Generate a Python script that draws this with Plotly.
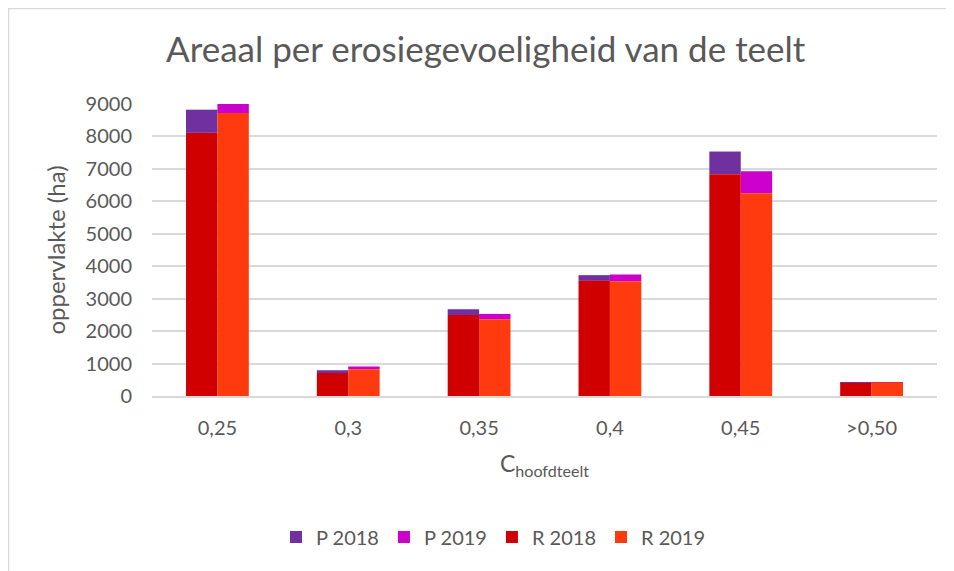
import plotly.graph_objects as go

categories = ["0,25", "0,3", "0,35", "0,4", "0,45", ">0,50"]
r_2018 = [8110, 710, 2495, 3550, 6835, 400]
p_2018 = [715, 85, 175, 175, 700, 10]
r_2019 = [8720, 825, 2365, 3540, 6250, 420]
p_2019 = [280, 85, 165, 205, 680, 10]
y_ticks = [0, 1000, 2000, 3000, 4000, 5000, 6000, 7000, 8000, 9000]

FONT = "Lato, Open Sans, sans-serif"
GREY = "#595959"

fig = go.Figure()
fig.add_trace(go.Bar(name="P 2018", x=categories, y=p_2018, base=r_2018,
                     offsetgroup="2018", marker_color="#7030A0", marker_line_width=0))
fig.add_trace(go.Bar(name="P 2019", x=categories, y=p_2019, base=r_2019,
                     offsetgroup="2019", marker_color="#CC00CC", marker_line_width=0))
fig.add_trace(go.Bar(name="R 2018", x=categories, y=r_2018,
                     offsetgroup="2018", marker_color="#D10000", marker_line_width=0))
fig.add_trace(go.Bar(name="R 2019", x=categories, y=r_2019,
                     offsetgroup="2019", marker_color="#FF3A0E", marker_line_width=0))

fig.update_layout(
    width=946, height=563,
    barmode="group", bargap=0.52, bargroupgap=0,
    paper_bgcolor="white", plot_bgcolor="white",
    margin=dict(l=144, r=17, t=96, b=175),
    font=dict(family=FONT, color=GREY, size=20),
    title=dict(text="Areaal per erosiegevoeligheid van de teelt",
               x=0.505, xref="container", xanchor="center",
               y=0.925, yref="container", yanchor="middle",
               font=dict(size=35, color=GREY, family=FONT)),
    legend=dict(orientation="h", x=0.435, xanchor="center", y=-0.483, yanchor="middle",
                font=dict(size=20, color=GREY), traceorder="normal"),
    showlegend=True,
)
fig.update_yaxes(range=[0, 9000], tickvals=y_ticks, ticktext=[str(v) for v in y_ticks],
                 showgrid=True, gridcolor="#D9D9D9", gridwidth=1.5, zeroline=False,
                 showline=False, ticks="", ticklabelstandoff=19,
                 tickfont=dict(size=20, color=GREY),
                 title=dict(text="oppervlakte (ha)", font=dict(size=24, color=GREY, family=FONT), standoff=13))
fig.update_xaxes(showline=True, linecolor="#D9D9D9", linewidth=1.5, showgrid=False,
                 ticks="", ticklabelstandoff=13, tickfont=dict(size=20, color=GREY),
                 title=dict(text="C<sub>hoofdteelt</sub>", font=dict(size=23, color=GREY), standoff=18))
# light border around the chart area (left and top edges visible)
fig.add_shape(type="rect", xref="paper", yref="paper",
              x0=(-143.5) / 785, x1=(820) / 785,
              y0=(-200) / 292, y1=(387.5) / 292,
              line=dict(color="#D9D9D9", width=1.5))

fig.write_html("out.html")
